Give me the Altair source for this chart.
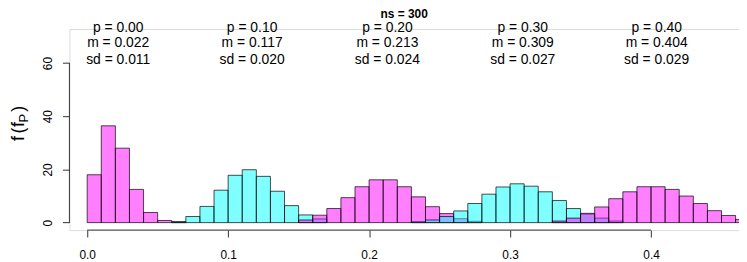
import altair as alt
import pandas as pd

# ---- data (density histograms, bin width 0.01) ----
bin_width = 0.01
series_start = [0.00, 0.06, 0.15, 0.23, 0.33]
series_color = ["magenta", "cyan", "magenta", "cyan", "magenta"]
dens_p00 = [18.0, 36.4, 28.0, 12.5, 3.8, 0.8, 0.3]
dens_p10 = [0.3, 2.3, 6.1, 12.2, 17.8, 19.9, 17.4, 11.8, 6.4, 2.9, 1.4]
dens_p20 = [1.0, 2.8, 5.3, 9.4, 13.5, 16.1, 16.1, 13.5, 9.7, 6.0, 3.4, 1.5, 0.5]
dens_p30 = [0.3, 1.0, 2.3, 4.4, 7.2, 10.7, 13.4, 14.6, 13.7, 11.6, 8.3, 5.3, 3.2, 1.7, 0.6]
dens_p40 = [0.6, 1.7, 3.5, 5.9, 9.0, 11.6, 13.5, 13.5, 12.5, 10.0, 7.2, 4.5, 2.7, 1.2, 0.7, 0.3]

p_labels = ["p = 0.00", "p = 0.10", "p = 0.20", "p = 0.30", "p = 0.40"]
m_values = [0.022, 0.117, 0.213, 0.309, 0.404]
sd_values = [0.011, 0.020, 0.024, 0.027, 0.029]

x_ticks = [0.0, 0.1, 0.2, 0.3, 0.4]
y_ticks = [0, 20, 40, 60]
title_text = "ns = 300"

# ---- build tables ----
rows = []
for k, dens in enumerate([dens_p00, dens_p10, dens_p20, dens_p30, dens_p40]):
    for i, d in enumerate(dens):
        x0 = round(series_start[k] + i * bin_width, 4)
        rows.append({"order": len(rows), "series": k, "col": series_color[k],
                     "x0": x0, "x1": round(x0 + bin_width, 4), "y0": 0.0, "dens": d})
bars_df = pd.DataFrame(rows)

hdr_df = pd.DataFrame({
    "m": m_values,
    "pl": p_labels,
    "ml": [f"m = {v:.3f}" for v in m_values],
    "sl": [f"sd = {v:.3f}" for v in sd_values],
})

FONT = "Liberation Sans"
W, H = 676, 203
xdom = [-0.0126, 0.4624]
ydom = [-2.8, 72.8]
xs = alt.Scale(domain=xdom, nice=False, zero=False)
ys = alt.Scale(domain=ydom, nice=False, zero=False)

x_axis = alt.Axis(values=x_ticks, format=".1f", domain=False, grid=False, tickSize=7,
                  tickColor="#333", labelFontSize=12, labelFont=FONT, labelColor="black",
                  labelPadding=13, title="")
y_axis = alt.Axis(values=y_ticks, domain=False, grid=False, tickSize=7, tickColor="#333",
                  labelFontSize=12, labelFont=FONT, labelColor="black", labelAngle=270,
                  labelAlign="center", labelBaseline="alphabetic", labelPadding=11, title="")

bars = alt.Chart(bars_df).mark_rect(
    fillOpacity=0.5, stroke="black", strokeOpacity=0.7, strokeWidth=1, clip=True
).encode(
    x=alt.X("x0:Q", scale=xs, axis=x_axis),
    x2="x1:Q",
    y=alt.Y("y0:Q", scale=ys, axis=y_axis),
    y2="dens:Q",
    fill=alt.Fill("col:N", scale=alt.Scale(domain=["magenta", "cyan"],
                                           range=["#FF00FF", "#00FFFF"]), legend=None),
    order=alt.Order("order:Q"),
)

yline = alt.Chart(pd.DataFrame({"a": [y_ticks[0]], "b": [y_ticks[-1]]})).mark_rule(
    color="#333", strokeWidth=1
).encode(x=alt.value(0), y=alt.Y("a:Q", scale=ys, axis=y_axis), y2="b:Q")

xline = alt.Chart(pd.DataFrame({"a": [x_ticks[0]], "b": [x_ticks[-1]]})).mark_rule(
    color="#333", strokeWidth=1
).encode(x=alt.X("a:Q", scale=xs, axis=x_axis), x2="b:Q", y=alt.value(H))

def hdr(field, ypx):
    return alt.Chart(hdr_df).mark_text(
        font=FONT, fontSize=14, color="black", align="center", baseline="middle"
    ).encode(x=alt.X("m:Q", scale=xs, axis=x_axis), y=alt.value(ypx), text=f"{field}:N")

title = alt.Chart(pd.DataFrame({"t": [title_text]})).mark_text(
    font=FONT, fontSize=12, fontWeight="bold", color="black", align="center", baseline="top"
).encode(x=alt.value(W / 2), y=alt.value(-20), text="t:N")

def ypart(txt, ypx, xpx, size):
    return alt.Chart(pd.DataFrame({"t": [txt]})).mark_text(
        font=FONT, fontSize=size, color="black", align="center", baseline="middle", angle=270
    ).encode(x=alt.value(xpx), y=alt.value(ypx), text="t:N")

ylab = [
    ypart("f", 110.5, -51, 18),
    ypart("(", 102.5, -51, 18),
    ypart("f", 96.5, -51, 18),
    ypart("P", 90.0, -46, 13),
    ypart(")", 80.5, -51, 18),
]

chart = alt.layer(
    bars, yline, xline, hdr("pl", -1), hdr("ml", 14.5), hdr("sl", 31), title, *ylab
).properties(
    width=W, height=H,
    padding={"left": 62, "top": 20, "right": 0, "bottom": 30},
    autosize=alt.AutoSizeParams(type="none"),
).configure_view(strokeWidth=0, stroke="transparent").configure(background="white")

chart.save("out.html", embed_options={"renderer": "svg", "actions": False})
